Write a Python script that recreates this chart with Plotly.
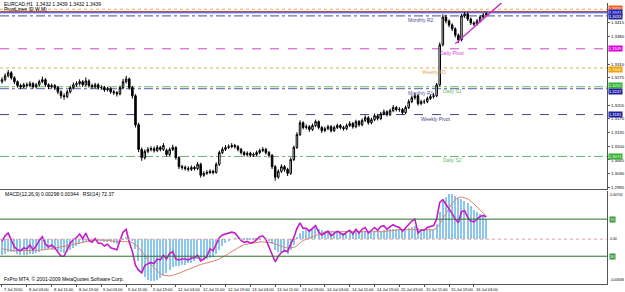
import plotly.graph_objects as go

# ---------------- data ----------------
symbol_header = "EURCAD,H1  1.3432 1.3439 1.3432 1.3439"
indicator_header = "PivotLines (D,W,M)"
sub_header = "MACD(12,26,9) 0.00298 0.00344   RSI(14) 72.37"
copyright_text = "FxPro MT4, \u00a9 2001-2009 MetaQuotes Software Corp."

opens = [1.3265, 1.3270, 1.3280, 1.3288, 1.3275, 1.3265, 1.3255, 1.3252, 1.3257, 1.3255,
         1.3260, 1.3252, 1.3257, 1.3265, 1.3270, 1.3257, 1.3252, 1.3255, 1.3250, 1.3239,
         1.3229, 1.3227, 1.3239, 1.3250, 1.3257, 1.3260, 1.3265, 1.3257, 1.3267, 1.3255,
         1.3252, 1.3257, 1.3250, 1.3250, 1.3244, 1.3247, 1.3239, 1.3237, 1.3234, 1.3250,
         1.3265, 1.3272, 1.3250, 1.3229, 1.3155, 1.3092, 1.3071, 1.3087, 1.3092, 1.3094,
         1.3089, 1.3097, 1.3092, 1.3090, 1.3079, 1.3092, 1.3097, 1.3071, 1.3048, 1.3046,
         1.3043, 1.3041, 1.3046, 1.3043, 1.3054, 1.3026, 1.3031, 1.3033, 1.3036, 1.3033,
         1.3054, 1.3084, 1.3092, 1.3097, 1.3099, 1.3102, 1.3099, 1.3092, 1.3084, 1.3079,
         1.3082, 1.3077, 1.3079, 1.3084, 1.3089, 1.3092, 1.3084, 1.3077, 1.3048, 1.3021,
         1.3036, 1.3048, 1.3041, 1.3031, 1.3066, 1.3097, 1.3130, 1.3160, 1.3148, 1.3150,
         1.3143, 1.3153, 1.3163, 1.3148, 1.3140, 1.3145, 1.3150, 1.3140, 1.3148, 1.3153,
         1.3148, 1.3145, 1.3153, 1.3158, 1.3150, 1.3163, 1.3155, 1.3166, 1.3173, 1.3160,
         1.3168, 1.3178, 1.3171, 1.3183, 1.3188, 1.3181, 1.3191, 1.3199, 1.3194, 1.3194,
         1.3186, 1.3199, 1.3214, 1.3224, 1.3229, 1.3209, 1.3214, 1.3214, 1.3222, 1.3227,
         1.3229, 1.3257, 1.3359, 1.3430, 1.3420, 1.3410, 1.3400, 1.3384, 1.3372, 1.3433,
         1.3438, 1.3425, 1.3415, 1.3412, 1.3420, 1.3430, 1.3435]

highs = [1.3276, 1.3286, 1.3295, 1.3292, 1.3279, 1.3268, 1.3260, 1.3262, 1.3263, 1.3266,
         1.3264, 1.3262, 1.3270, 1.3278, 1.3274, 1.3261, 1.3260, 1.3259, 1.3254, 1.3243,
         1.3235, 1.3244, 1.3255, 1.3263, 1.3266, 1.3271, 1.3269, 1.3276, 1.3271, 1.3260,
         1.3262, 1.3261, 1.3256, 1.3254, 1.3252, 1.3251, 1.3244, 1.3241, 1.3255, 1.3272,
         1.3280, 1.3276, 1.3254, 1.3233, 1.3160, 1.3097, 1.3092, 1.3098, 1.3100, 1.3099,
         1.3103, 1.3101, 1.3108, 1.3094, 1.3097, 1.3104, 1.3100, 1.3075, 1.3053, 1.3051,
         1.3049, 1.3051, 1.3050, 1.3060, 1.3058, 1.3036, 1.3039, 1.3041, 1.3040, 1.3059,
         1.3089, 1.3098, 1.3103, 1.3105, 1.3108, 1.3106, 1.3103, 1.3096, 1.3088, 1.3087,
         1.3086, 1.3084, 1.3089, 1.3094, 1.3098, 1.3096, 1.3088, 1.3080, 1.3052, 1.3041,
         1.3054, 1.3052, 1.3045, 1.3071, 1.3102, 1.3136, 1.3166, 1.3164, 1.3156, 1.3154,
         1.3158, 1.3168, 1.3166, 1.3152, 1.3150, 1.3155, 1.3154, 1.3153, 1.3158, 1.3157,
         1.3152, 1.3158, 1.3164, 1.3162, 1.3168, 1.3167, 1.3171, 1.3179, 1.3177, 1.3173,
         1.3184, 1.3182, 1.3188, 1.3194, 1.3192, 1.3196, 1.3205, 1.3203, 1.3200, 1.3198,
         1.3204, 1.3220, 1.3230, 1.3236, 1.3233, 1.3219, 1.3220, 1.3227, 1.3232, 1.3236,
         1.3262, 1.3365, 1.3437, 1.3436, 1.3424, 1.3414, 1.3404, 1.3388, 1.3438, 1.3443,
         1.3442, 1.3429, 1.3419, 1.3425, 1.3435, 1.3440, 1.3442]

lows = [1.3260, 1.3266, 1.3276, 1.3270, 1.3259, 1.3250, 1.3246, 1.3248, 1.3250, 1.3251,
        1.3247, 1.3248, 1.3253, 1.3261, 1.3252, 1.3246, 1.3247, 1.3244, 1.3233, 1.3222,
        1.3219, 1.3223, 1.3235, 1.3246, 1.3252, 1.3255, 1.3252, 1.3253, 1.3250, 1.3247,
        1.3248, 1.3245, 1.3244, 1.3239, 1.3240, 1.3234, 1.3231, 1.3227, 1.3230, 1.3246,
        1.3260, 1.3245, 1.3222, 1.3148, 1.3085, 1.3063, 1.3066, 1.3082, 1.3087, 1.3084,
        1.3085, 1.3087, 1.3088, 1.3074, 1.3075, 1.3088, 1.3066, 1.3042, 1.3040, 1.3038,
        1.3036, 1.3037, 1.3038, 1.3039, 1.3020, 1.3022, 1.3027, 1.3029, 1.3028, 1.3030,
        1.3050, 1.3080, 1.3088, 1.3093, 1.3095, 1.3094, 1.3087, 1.3079, 1.3074, 1.3075,
        1.3072, 1.3073, 1.3075, 1.3080, 1.3085, 1.3079, 1.3071, 1.3042, 1.3012, 1.3017,
        1.3032, 1.3035, 1.3024, 1.3027, 1.3062, 1.3093, 1.3126, 1.3143, 1.3143, 1.3137,
        1.3139, 1.3149, 1.3143, 1.3134, 1.3136, 1.3141, 1.3135, 1.3136, 1.3144, 1.3143,
        1.3140, 1.3141, 1.3149, 1.3145, 1.3146, 1.3150, 1.3151, 1.3162, 1.3155, 1.3156,
        1.3164, 1.3166, 1.3167, 1.3179, 1.3176, 1.3177, 1.3187, 1.3189, 1.3188, 1.3180,
        1.3182, 1.3195, 1.3210, 1.3219, 1.3204, 1.3205, 1.3208, 1.3210, 1.3218, 1.3222,
        1.3225, 1.3253, 1.3355, 1.3414, 1.3404, 1.3394, 1.3378, 1.3364, 1.3368, 1.3428,
        1.3420, 1.3410, 1.3407, 1.3408, 1.3416, 1.3426, 1.3432]

closes = [1.3270, 1.3280, 1.3288, 1.3275, 1.3265, 1.3255, 1.3252, 1.3257, 1.3255, 1.3260,
          1.3252, 1.3257, 1.3265, 1.3270, 1.3257, 1.3252, 1.3255, 1.3250, 1.3239, 1.3229,
          1.3227, 1.3239, 1.3250, 1.3257, 1.3260, 1.3265, 1.3257, 1.3267, 1.3255, 1.3252,
          1.3257, 1.3250, 1.3250, 1.3244, 1.3247, 1.3239, 1.3237, 1.3234, 1.3250, 1.3265,
          1.3272, 1.3250, 1.3229, 1.3155, 1.3092, 1.3071, 1.3087, 1.3092, 1.3094, 1.3089,
          1.3097, 1.3092, 1.3102, 1.3079, 1.3092, 1.3097, 1.3071, 1.3048, 1.3046, 1.3043,
          1.3041, 1.3046, 1.3043, 1.3054, 1.3026, 1.3031, 1.3033, 1.3036, 1.3033, 1.3054,
          1.3084, 1.3092, 1.3097, 1.3099, 1.3102, 1.3099, 1.3092, 1.3084, 1.3079, 1.3082,
          1.3077, 1.3079, 1.3084, 1.3089, 1.3092, 1.3084, 1.3077, 1.3048, 1.3021, 1.3036,
          1.3048, 1.3041, 1.3031, 1.3066, 1.3097, 1.3130, 1.3160, 1.3148, 1.3150, 1.3143,
          1.3153, 1.3163, 1.3148, 1.3140, 1.3145, 1.3150, 1.3140, 1.3148, 1.3153, 1.3148,
          1.3145, 1.3153, 1.3158, 1.3150, 1.3163, 1.3155, 1.3166, 1.3173, 1.3160, 1.3168,
          1.3178, 1.3171, 1.3183, 1.3188, 1.3181, 1.3191, 1.3199, 1.3194, 1.3194, 1.3186,
          1.3199, 1.3214, 1.3224, 1.3229, 1.3209, 1.3214, 1.3214, 1.3222, 1.3227, 1.3229,
          1.3257, 1.3359, 1.3430, 1.3420, 1.3410, 1.3400, 1.3384, 1.3372, 1.3433, 1.3438,
          1.3425, 1.3415, 1.3412, 1.3420, 1.3430, 1.3435, 1.3439]

macd_hist = [-0.0024, -0.0022, -0.0019, -0.0019, -0.0020, -0.0022, -0.0023, -0.0023, -0.0023, -0.0022,
             -0.0022, -0.0021, -0.0019, -0.0016, -0.0016, -0.0016, -0.0016, -0.0016, -0.0018, -0.0020,
             -0.0021, -0.0019, -0.0016, -0.0013, -0.0010, -0.0007, -0.0006, -0.0003, -0.0003, -0.0003,
             -0.0002, -0.0003, -0.0003, -0.0004, -0.0004, -0.0005, -0.0006, -0.0007, -0.0005, -0.0001,
             0.0002, 0.0001, -0.0003, -0.0015, -0.0032, -0.0048, -0.0056, -0.0060, -0.0062, -0.0062,
             -0.0060, -0.0057, -0.0053, -0.0050, -0.0046, -0.0042, -0.0040, -0.0040, -0.0039, -0.0038,
             -0.0036, -0.0035, -0.0033, -0.0030, -0.0031, -0.0031, -0.0030, -0.0028, -0.0026, -0.0022,
             -0.0016, -0.0010, -0.0006, -0.0003, 0.0000, 0.0001, 0.0001, 0.0000, -0.0001, -0.0002,
             -0.0002, -0.0002, -0.0002, -0.0001, 0.0000, -0.0001, -0.0003, -0.0008, -0.0016, -0.0019,
             -0.0019, -0.0020, -0.0022, -0.0017, -0.0009, 0.0002, 0.0008, 0.0011, 0.0013, 0.0014,
             0.0015, 0.0016, 0.0015, 0.0013, 0.0012, 0.0012, 0.0010, 0.0010, 0.0010, 0.0009,
             0.0009, 0.0009, 0.0010, 0.0009, 0.0010, 0.0009, 0.0010, 0.0011, 0.0010, 0.0010,
             0.0011, 0.0011, 0.0012, 0.0013, 0.0013, 0.0014, 0.0015, 0.0015, 0.0015, 0.0014,
             0.0014, 0.0016, 0.0018, 0.0019, 0.0016, 0.0014, 0.0013, 0.0013, 0.0013, 0.0013,
             0.0022, 0.0040, 0.0055, 0.0062, 0.0066, 0.0066, 0.0063, 0.0060, 0.0059, 0.0056,
             0.0052, 0.0048, 0.0043, 0.0040, 0.0036, 0.0033, 0.00298]

macd_signal = [-0.0014, -0.0015, -0.0016, -0.0016, -0.0017, -0.0017, -0.0017, -0.0017, -0.0017, -0.0017,
               -0.0017, -0.0017, -0.0016, -0.0016, -0.0015, -0.0015, -0.0014, -0.0013, -0.0012, -0.0011,
               -0.0010, -0.0009, -0.0008, -0.0007, -0.0006, -0.0005, -0.0004, -0.0003, -0.0002, -0.0002,
               -0.0001, -0.0001, -0.0001, -0.0002, -0.0002, -0.0002, -0.0003, -0.0003, -0.0003, -0.0003,
               -0.0003, -0.0004, -0.0005, -0.0008, -0.0012, -0.0018, -0.0025, -0.0031, -0.0037, -0.0042,
               -0.0047, -0.0051, -0.0053, -0.0054, -0.0054, -0.0053, -0.0052, -0.0050, -0.0048, -0.0046,
               -0.0044, -0.0042, -0.0040, -0.0038, -0.0037, -0.0036, -0.0035, -0.0034, -0.0033, -0.0031,
               -0.0029, -0.0027, -0.0024, -0.0021, -0.0018, -0.0015, -0.0012, -0.0010, -0.0008, -0.0007,
               -0.0006, -0.0005, -0.0004, -0.0004, -0.0004, -0.0004, -0.0004, -0.0005, -0.0007, -0.0009,
               -0.0011, -0.0012, -0.0013, -0.0013, -0.0012, -0.0010, -0.0005, -0.0002, 0.0000, 0.0002,
               0.0004, 0.0006, 0.0008, 0.0009, 0.0010, 0.0011, 0.0011, 0.0011, 0.0011, 0.0011,
               0.0010, 0.0010, 0.0010, 0.0010, 0.0010, 0.0010, 0.0010, 0.0010, 0.0010, 0.0010,
               0.0010, 0.0010, 0.0011, 0.0011, 0.0012, 0.0012, 0.0013, 0.0013, 0.0014, 0.0014,
               0.0014, 0.0014, 0.0015, 0.0015, 0.0015, 0.0015, 0.0015, 0.0015, 0.0014, 0.0014,
               0.0016, 0.0022, 0.0030, 0.0038, 0.0046, 0.0053, 0.0058, 0.0061, 0.0062, 0.0061,
               0.0059, 0.0056, 0.0052, 0.0047, 0.0043, 0.0038, 0.00344]

rsi = [46, 52, 55, 47, 40, 37, 36, 39, 38, 42,
       37, 41, 47, 51, 43, 40, 42, 39, 34, 30,
       30, 38, 44, 48, 50, 54, 49, 55, 47, 45,
       49, 44, 44, 41, 43, 39, 38, 37, 47, 56,
       59, 45, 35, 20, 15, 12, 20, 22, 23, 22,
       27, 26, 31, 27, 33, 35, 27, 26, 27, 27,
       26, 28, 28, 31, 25, 27, 30, 38, 36, 44,
       50, 53, 54, 55, 56, 55, 51, 47, 45, 46,
       44, 45, 48, 51, 52, 48, 40, 32, 24, 30,
       34, 36, 35, 43, 50, 60, 66, 60, 60, 57,
       60, 63, 56, 53, 55, 57, 52, 55, 57, 55,
       53, 56, 58, 54, 59, 55, 59, 61, 55, 58,
       61, 58, 62, 63, 59, 62, 64, 62, 61, 57,
       61, 65, 68, 70, 55, 58, 58, 61, 62, 63,
       70, 88, 91, 86, 82, 76, 70, 66, 78, 79,
       72, 68, 67, 70, 73, 74, 72.37]

bar_idx = list(range(len(closes)))

# time axis labels (bar index, text)
tick_idx = [0, 8, 16, 24, 32, 40, 48, 56, 64, 72, 80, 88, 96, 104, 112, 120, 128, 136, 144, 152]
tick_text = ["7 Jul 2010", "8 Jul 03:00", "8 Jul 11:00", "8 Jul 19:00", "9 Jul 03:00",
             "9 Jul 11:00", "9 Jul 19:00", "12 Jul 03:00", "12 Jul 11:00", "12 Jul 19:00",
             "13 Jul 03:00", "13 Jul 11:00", "13 Jul 19:00", "14 Jul 03:00", "14 Jul 11:00",
             "14 Jul 19:00", "15 Jul 03:00", "15 Jul 11:00", "15 Jul 19:00", "16 Jul 03:00"]

# right price scale (labels hidden behind level boxes are left out, as in the reference)
price_ticks = [1.3415, 1.3380, 1.3310, 1.3275, 1.3205, 1.3170,
               1.3135, 1.3100, 1.3065, 1.3030, 1.2995]

# pivot / level lines
level_names = ["Weekly R2", "", "", "Monthly R2", "Daily Pivot", "Weekly R1",
               "Daily S1", "Monthly R1", "Weekly Pivot", "Daily S2"]
level_values = [1.3450, 1.3444, 1.3441, 1.3433, 1.3349, 1.3300, 1.3252, 1.3247, 1.3181, 1.3074]
level_colors = ["#d8b060", "#b04040", "#3838c8", "#4a4a98", "#cc44cc", "#e0b050",
                "#66b866", "#5a5aa8", "#44448a", "#66b866"]
level_dash = ["dot", "solid", "solid", "dashdot", "dash", "dot",
              "dashdot", "dashdot", "dash", "dashdot"]
level_box = ["#f06018", None, "#2020c8", "#2828a0", "#dd00dd", "#f0a000",
             "#30b030", "#2020a0", "#2020a0", "#30b030"]
level_box_shift = [1, 0, 0, -1, 0, -1.5, 1, -3, 0, 0]
level_label_idx = [None, None, None, 135, 145, 139, 145, 135, 139.5, 145]

trend_x = [146, 166]
trend_y = [1.3362, 1.3502]

macd_top, macd_bottom = 0.00702, -0.00658
rsi_levels = [70, 30]

# ---------------- layout geometry ----------------
W, H = 625, 292
axis_x = 611 / W
main_dom = [1 - 190 / H, 1 - 3 / H]
sub_dom = [1 - 285 / H, 1 - 192 / H]
x_range = [-0.64, 194.9]
FONT = "Liberation Sans"
NARROW = "Liberation Sans Narrow, Liberation Sans"

fig = go.Figure()

fig.add_trace(go.Candlestick(
    x=bar_idx, open=opens, high=highs, low=lows, close=closes,
    increasing=dict(line=dict(color="black", width=1), fillcolor="white"),
    decreasing=dict(line=dict(color="black", width=1), fillcolor="black"),
    whiskerwidth=0, xaxis="x", yaxis="y", hoverinfo="skip"))

fig.add_trace(go.Scatter(x=trend_x, y=trend_y, mode="lines",
                         line=dict(color="#cc33cc", width=1.5), xaxis="x", yaxis="y",
                         hoverinfo="skip"))

fig.add_trace(go.Bar(x=bar_idx, y=macd_hist, marker=dict(color="#8cc6ea", line=dict(width=0)),
                     width=0.4, xaxis="x2", yaxis="y2", hoverinfo="skip"))
fig.add_trace(go.Scatter(x=bar_idx, y=macd_signal, mode="lines",
                         line=dict(color="#dc8470", width=1), xaxis="x2", yaxis="y2",
                         hoverinfo="skip"))
fig.add_trace(go.Scatter(x=bar_idx, y=rsi, mode="lines",
                         line=dict(color="#c41cc8", width=1.6), xaxis="x2", yaxis="y3",
                         hoverinfo="skip"))

shapes = []
annotations = []
for name, val, col, dash, box, bs, li in zip(level_names, level_values, level_colors,
                                             level_dash, level_box, level_box_shift,
                                             level_label_idx):
    shapes.append(dict(type="line", xref="paper", yref="y", x0=0, x1=axis_x, y0=val, y1=val,
                       line=dict(color=col, width=1, dash=dash), layer="below"))
    if box:
        annotations.append(dict(xref="paper", yref="y", x=axis_x + 0.002, y=val, yshift=bs,
                                xanchor="left", yanchor="middle", text=f"{val:.4f}",
                                showarrow=False, bgcolor=box, borderpad=0,
                                font=dict(size=4, color="white", family=NARROW)))
    if name and li is not None:
        annotations.append(dict(xref="x", yref="y", x=li, y=val, yshift=-4,
                                xanchor="center", yanchor="middle", text=name,
                                showarrow=False, font=dict(size=5, color=col, family=FONT)))

# sub-window levels
shapes.append(dict(type="line", xref="paper", yref="y2", x0=0, x1=axis_x, y0=0, y1=0,
                   line=dict(color="#e8a0a0", width=1, dash="dot")))
for lv in rsi_levels:
    shapes.append(dict(type="line", xref="paper", yref="y3", x0=0, x1=axis_x, y0=lv, y1=lv,
                       line=dict(color="#2f6f2f", width=1)))
    annotations.append(dict(xref="paper", yref="y3", x=axis_x + 0.003, y=lv,
                            xanchor="left", yanchor="middle", text=str(lv), showarrow=False,
                            bgcolor="#3c9a3c", borderpad=0,
                            font=dict(size=4, color="white", family=NARROW)))

# sub-window scale labels
for txt, val, anc in [(f"{macd_top:.5f}", macd_top, "top"), ("0.00", 0, "middle"),
                      (f"{macd_bottom:.5f}", macd_bottom, "bottom")]:
    annotations.append(dict(xref="paper", yref="y2", x=axis_x + 0.002, y=val,
                            xanchor="left", yanchor=anc, text=txt, showarrow=False,
                            font=dict(size=3.5, color="black", family=NARROW)))

# headers
annotations += [
    dict(xref="paper", yref="paper", x=0.004, y=1 - 4 / H, xanchor="left", yanchor="middle",
         text=symbol_header, showarrow=False, font=dict(size=5, color="black", family=FONT)),
    dict(xref="paper", yref="paper", x=0.004, y=1 - 9.5 / H, xanchor="left", yanchor="middle",
         text=indicator_header, showarrow=False, font=dict(size=5, color="black", family=FONT)),
    dict(xref="paper", yref="paper", x=0.005, y=1 - 195 / H, xanchor="left", yanchor="middle",
         text=sub_header, showarrow=False, font=dict(size=5, color="black", family=FONT)),
    dict(xref="paper", yref="paper", x=0.004, y=1 - 280 / H, xanchor="left", yanchor="middle",
         text=copyright_text, showarrow=False, font=dict(size=5, color="black", family=FONT)),
]

# time labels
for ti, tt in zip(tick_idx, tick_text):
    annotations.append(dict(xref="x2", yref="paper", x=ti, y=sub_dom[0], yshift=-1,
                            xanchor="left", yanchor="top", text=tt, showarrow=False,
                            font=dict(size=4, color="black", family=NARROW)))

axis_common = dict(showgrid=False, zeroline=False, linecolor="#555555", linewidth=1)

fig.update_layout(
    width=W, height=H, margin=dict(l=0, r=0, t=0, b=0),
    paper_bgcolor="white", plot_bgcolor="white", showlegend=False,
    font=dict(family=FONT, size=5, color="black"),
    bargap=0,
    xaxis=dict(domain=[0, axis_x], range=x_range, anchor="y", showticklabels=False,
               showline=True, ticks="", rangeslider=dict(visible=False), **axis_common),
    xaxis2=dict(domain=[0, axis_x], range=x_range, anchor="y2", matches="x",
                showticklabels=False, showline=True, ticks="outside", ticklen=2,
                tickvals=tick_idx, tickcolor="#555555", **axis_common),
    yaxis=dict(domain=main_dom, range=[1.2990, 1.3466], anchor="x", side="right",
               tickvals=price_ticks, tickformat=".4f", ticks="outside", ticklen=2,
               tickcolor="#555555", tickfont=dict(size=4.3, family=NARROW),
               showline=True, **axis_common),
    yaxis2=dict(domain=sub_dom, range=[macd_bottom, macd_top], anchor="x2", side="right",
                showticklabels=False, showline=True, ticks="", **axis_common),
    yaxis3=dict(overlaying="y2", range=[0, 100], anchor="x2", side="right", visible=False,
                showgrid=False, zeroline=False),
    shapes=shapes, annotations=annotations,
)

fig.write_html("out.html")
